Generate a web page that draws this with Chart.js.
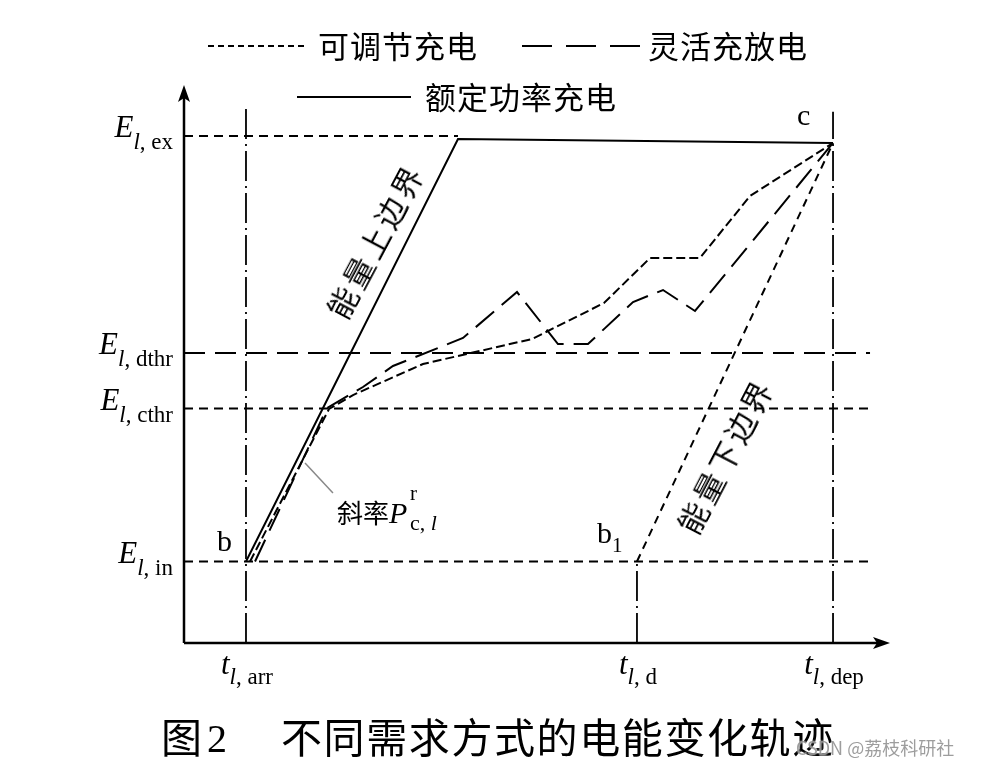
<!DOCTYPE html>
<html><head><meta charset="utf-8">
<script src="https://cdn.jsdelivr.net/npm/chart.js@4.4.1/dist/chart.umd.min.js"></script>
<style>
body{margin:0;background:#fff;}
#wrap{position:relative;width:981px;height:769px;overflow:hidden;background:#fff;}
.t{position:absolute;white-space:nowrap;color:#000;}
.serif{font-family:"Liberation Serif","DejaVu Serif",serif;}
.cjk{font-family:"Noto Sans CJK SC","Noto Sans",sans-serif;}
.s{font-size:23px;line-height:0;position:relative;top:12px;font-family:"Liberation Serif",serif;}
</style></head><body>
<div id="wrap"><canvas id="c" width="981" height="769"></canvas></div>
<script>
// ---- data (arbitrary time / energy units) ----
const timeNames = ['arr', 'd', 'dep'];
const timeValues = [8.78, 64.16, 91.93];
const energyNames = ['in', 'cthr', 'dthr', 'ex'];
const energyValues = [14.61, 42.03, 51.97, 90.86];

// 额定功率充电 (rated charging / upper energy boundary)
const ratedX = [8.78, 38.81, 91.93];
const ratedY = [14.61, 90.32, 89.61];
// 可调节充电 (adjustable charging)
const adjustX = [9.35, 20.54, 23.94, 33.85, 49.29, 59.49, 66.01, 73.09, 80.17, 91.93];
const adjustY = [14.61, 41.94, 44.44, 50.0, 54.48, 60.93, 69.0, 69.0, 80.11, 89.61];
// 灵活充放电 (flexible charge/discharge)
const flexX = [10.06, 20.25, 25.35, 29.6, 39.52, 47.17, 52.97, 57.22, 63.6, 67.85, 72.38, 91.93];
const flexY = [14.61, 42.11, 45.88, 49.64, 54.66, 62.9, 53.58, 53.58, 61.11, 63.26, 59.5, 89.61];
// 能量下边界 (lower energy boundary)
const lowerX = [64.16, 91.93];
const lowerY = [14.61, 89.61];
// slope pointer
const pointerX = [17.14, 21.1];
const pointerY = [32.26, 26.88];
// reference line extents
const hLineEnd = 97.17;
const exLineEnd = 38.81;
const vLineTops = [95.9, 14.61, 95.2];

const pts = (xs, ys) => xs.map((x, i) => ({x, y: ys[i]}));
const line = (data, dash, extra) => Object.assign({data, showLine: true, pointRadius: 0, borderColor: '#000', borderWidth: 2, borderDash: dash, fill: false, tension: 0}, extra || {});

const datasets = [];
// horizontal reference lines
datasets.push(line([{x: 0, y: energyValues[0]}, {x: hLineEnd, y: energyValues[0]}], [9, 6]));
datasets.push(line([{x: 0, y: energyValues[1]}, {x: hLineEnd, y: energyValues[1]}], [9, 6]));
datasets.push(line([{x: 0, y: energyValues[2]}, {x: hLineEnd, y: energyValues[2]}], [21, 10]));
datasets.push(line([{x: 0, y: energyValues[3]}, {x: exLineEnd, y: energyValues[3]}], [9, 6]));
// vertical dash-dot lines
timeValues.forEach((t, i) => datasets.push(line([{x: t, y: 0}, {x: t, y: vLineTops[i]}], [30, 5, 2, 5], {borderWidth: 1.8})));
// trajectories
datasets.push(line(pts(lowerX, lowerY), [8, 6]));
datasets.push(line(pts(flexX, flexY), [24, 10]));
datasets.push(line(pts(adjustX, adjustY), [9, 4]));
datasets.push(line(pts(ratedX, ratedY), []));
datasets.push(line(pts(pointerX, pointerY), [], {borderColor: '#888', borderWidth: 1.5}));

const deco = {
  id: 'deco',
  afterDraw(chart) {
    const {ctx, chartArea: a} = chart;
    ctx.save();
    ctx.strokeStyle = '#000'; ctx.fillStyle = '#000';
    ctx.lineWidth = 2.5; ctx.setLineDash([]);
    ctx.beginPath();
    ctx.moveTo(a.left, a.bottom); ctx.lineTo(a.left, a.top + 8);
    ctx.moveTo(a.left, a.bottom); ctx.lineTo(a.right - 8, a.bottom);
    ctx.stroke();
    ctx.beginPath();
    ctx.moveTo(a.left, a.top); ctx.lineTo(a.left - 6, a.top + 17); ctx.lineTo(a.left, a.top + 13); ctx.lineTo(a.left + 6, a.top + 17); ctx.closePath(); ctx.fill();
    ctx.beginPath();
    ctx.moveTo(a.right, a.bottom); ctx.lineTo(a.right - 17, a.bottom - 6); ctx.lineTo(a.right - 13, a.bottom); ctx.lineTo(a.right - 17, a.bottom + 6); ctx.closePath(); ctx.fill();
    // legend samples
    ctx.lineWidth = 2;
    ctx.setLineDash([6, 4]);
    ctx.beginPath(); ctx.moveTo(208, 46); ctx.lineTo(306, 46); ctx.stroke();
    ctx.setLineDash([30, 14]);
    ctx.beginPath(); ctx.moveTo(522, 46); ctx.lineTo(642, 46); ctx.stroke();
    ctx.setLineDash([]);
    ctx.beginPath(); ctx.moveTo(297, 97); ctx.lineTo(411, 97); ctx.stroke();
    ctx.restore();
  }
};

const chart = new Chart(document.getElementById('c'), {
  type: 'scatter',
  data: {datasets},
  options: {
    responsive: false, animation: false, devicePixelRatio: 1,
    layout: {padding: {left: 184, right: 91, top: 85, bottom: 126}},
    plugins: {legend: {display: false}, tooltip: {enabled: false}},
    scales: {
      x: {type: 'linear', min: 0, max: 100, display: false},
      y: {type: 'linear', min: 0, max: 100, display: false}
    }
  },
  plugins: [deco]
});

// ---- text labels (HTML) ----
const wrap = document.getElementById('wrap');
function add(html, cls, style) {
  const d = document.createElement('div');
  d.className = 't ' + cls;
  d.innerHTML = html;
  Object.assign(d.style, style);
  wrap.appendChild(d);
  return d;
}
const ys = chart.scales.y, xs = chart.scales.x;
const F = 31;
// energy labels, right aligned
energyNames.forEach((n, i) => {
  const base = ys.getPixelForValue(energyValues[i]) + 1;
  add('<i>E</i><span class="s"><i>l</i>, ' + n + '</span>', 'serif',
    {right: (981 - 173) + 'px', top: (base - 0.8375 * F) + 'px', fontSize: F + 'px', lineHeight: F + 'px'});
});
// time labels, centered
timeNames.forEach((n, i) => {
  const cx = xs.getPixelForValue(timeValues[i]);
  add('<i>t</i><span class="s" style="top:10px"><i>l</i>, ' + n + '</span>', 'serif',
    {left: (cx + 1) + 'px', top: (674 - 0.8375 * F) + 'px', fontSize: F + 'px', lineHeight: F + 'px', transform: 'translateX(-50%)'});
});
// point letters
add('b', 'serif', {left: '217px', top: (551 - 0.8375 * 30) + 'px', fontSize: '30px', lineHeight: '30px'});
add('b<span class="s" style="top:9px;font-size:21px">1</span>', 'serif', {left: '597px', top: (543 - 0.8375 * 30) + 'px', fontSize: '30px', lineHeight: '30px'});
add('c', 'serif', {left: '797px', top: (125 - 0.8375 * 30) + 'px', fontSize: '30px', lineHeight: '30px'});
// slope annotation
add('<span class="cjk" style="font-size:26px">斜率</span><i>P</i>', 'serif', {left: '337px', top: (522 - 0.8375 * 30) + 'px', fontSize: '30px', lineHeight: '30px'});
add('r', 'serif', {left: '410px', top: (501 - 0.8375 * 21) + 'px', fontSize: '21px', lineHeight: '21px'});
add('c, <i>l</i>', 'serif', {left: '410px', top: (530 - 0.8375 * 22) + 'px', fontSize: '22px', lineHeight: '22px'});
// rotated boundary texts
add('能量上边界', 'cjk', {left: '374px', top: '240px', fontSize: '30px', lineHeight: '30px', letterSpacing: '4px', transform: 'translate(-50%,-50%) rotate(-62deg)'});
add('能量下边界', 'cjk', {left: '724px', top: '455px', fontSize: '30px', lineHeight: '30px', letterSpacing: '4px', transform: 'translate(-50%,-50%) rotate(-62.5deg)'});
// legend texts
add('可调节充电', 'cjk', {left: '318px', top: (46 - 0.55 * 31) + 'px', fontSize: '31px', lineHeight: '31px', letterSpacing: '1px'});
add('灵活充放电', 'cjk', {left: '648px', top: (46 - 0.55 * 31) + 'px', fontSize: '31px', lineHeight: '31px', letterSpacing: '1px'});
add('额定功率充电', 'cjk', {left: '425px', top: (97 - 0.55 * 31) + 'px', fontSize: '31px', lineHeight: '31px', letterSpacing: '1px'});
// caption
add('图', 'cjk', {left: '161px', top: (738 - 0.55 * 41) + 'px', fontSize: '41px', lineHeight: '41px'});
add('2', 'serif', {left: '207px', top: (752 - 0.8375 * 40) + 'px', fontSize: '40px', lineHeight: '40px'});
add('不同需求方式的电能变化轨迹', 'cjk', {left: '281px', top: (738 - 0.55 * 41) + 'px', fontSize: '41px', lineHeight: '41px', letterSpacing: '1.6px'});
// watermark
add('CSDN @荔枝科研社', 'cjk', {left: '796px', top: (748 - 0.55 * 18) + 'px', fontSize: '18px', lineHeight: '18px', color: 'rgba(140,140,140,0.85)', textShadow: '0 0 2px #fff'});
</script>
</body></html>
